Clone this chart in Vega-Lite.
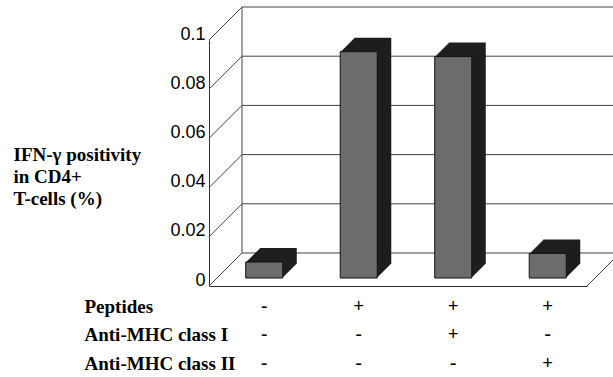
{
"$schema": "https://vega.github.io/schema/vega-lite/v6.json",
"width": 378, "height": 246,
"autosize": {"type": "none"},
"padding": {"left": 209, "top": 40, "right": 26, "bottom": 91},
"background": "white",
"config": {"view": {"stroke": null}},
"datasets": {
  "bars": [
    {"cond": "- - -", "value": 0.0065},
    {"cond": "+ - -", "value": 0.092},
    {"cond": "+ + -", "value": 0.09},
    {"cond": "+ - +", "value": 0.01}
  ],
  "ticks": [{"v": 0}, {"v": 0.02}, {"v": 0.04}, {"v": 0.06}, {"v": 0.08}, {"v": 0.1}],
  "one": [{}]
},
"layer": [
  {
    "layer": [
      {"data": {"name": "ticks"},
       "mark": {"type": "rule", "color": "#444", "strokeWidth": 1, "xOffset": 33, "x2Offset": 33, "yOffset": -33},
       "encoding": {
         "x": {"datum": 0, "type": "quantitative", "scale": {"domain": [0, 1]}, "axis": null},
         "x2": {"datum": 1},
         "y": {"field": "v", "type": "quantitative"}
       }},
      {"data": {"name": "ticks"},
       "mark": {"type": "rule", "color": "#444", "strokeWidth": 1, "x2Offset": 33, "y2Offset": -33},
       "encoding": {
         "x": {"datum": 0, "type": "quantitative", "scale": {"domain": [0, 1]}, "axis": null},
         "x2": {"datum": 0},
         "y": {"field": "v", "type": "quantitative"},
         "y2": {"field": "v"}
       }},
      {"data": {"name": "one"},
       "mark": {"type": "rule", "color": "#444", "strokeWidth": 1, "xOffset": 33, "yOffset": -33, "y2Offset": -33},
       "encoding": {
         "x": {"datum": 0, "type": "quantitative", "scale": {"domain": [0, 1]}, "axis": null},
         "y": {"datum": 0, "type": "quantitative"},
         "y2": {"datum": 0.1}
       }},
      {"data": {"name": "one"},
       "mark": {"type": "rule", "color": "#444", "strokeWidth": 1, "x2Offset": 33, "y2Offset": -33},
       "encoding": {
         "x": {"datum": 1, "type": "quantitative", "scale": {"domain": [0, 1]}, "axis": null},
         "x2": {"datum": 1},
         "y": {"datum": 0, "type": "quantitative"},
         "y2": {"datum": 0}
       }}
    ]
  },
  {
    "data": {"name": "bars"},
    "encoding": {
      "x": {"field": "cond", "type": "nominal", "sort": null,
        "scale": {"paddingInner": 0.608, "paddingOuter": 0.304},
        "axis": {"labelExpr": "split(datum.label, ' ')", "labelAngle": 0, "labelFont": "Liberation Serif", "labelFontWeight": "bold", "labelFontSize": 19, "labelLineHeight": 28.5, "labelPadding": 10, "labelOffset": 8, "labelColor": "#000", "labelOverlap": false, "labelBound": false, "labelBaseline": "top",
          "ticks": false, "domain": true, "domainColor": "#333", "grid": false,
          "title": ["Peptides", "Anti-MHC class I", "Anti-MHC class II"],
          "titleFont": "Liberation Serif", "titleFontSize": 19, "titleFontWeight": "bold", "titleColor": "#000", "titleAlign": "left", "titleBaseline": "top", "titleX": -125, "titleY": 11, "titleLineHeight": 28.5}},
      "y": {"field": "value", "type": "quantitative",
        "scale": {"domain": [0, 0.1], "nice": false},
        "axis": {"values": [0, 0.02, 0.04, 0.06, 0.08, 0.1], "format": "~g", "grid": false, "ticks": false, "domain": true, "domainColor": "#333",
          "labelFont": "Liberation Sans", "labelFontSize": 18, "labelPadding": 4, "labelOffset": -6, "labelColor": "#000",
          "title": ["IFN-γ positivity", "in CD4+", "T-cells (%)"],
          "titleFont": "Liberation Serif", "titleFontSize": 19, "titleFontWeight": "bold", "titleColor": "#000", "titleAngle": 0, "titleAlign": "left", "titleBaseline": "top", "titleX": -196, "titleY": 105, "titleLineHeight": 22}}
    },
    "layer": [
      {"mark": {"type": "bar", "color": "#1e1e1e", "xOffset": 22, "x2Offset": 22, "yOffset": -22, "y2Offset": -22}},
      {"mark": {"type": "bar", "color": "#1e1e1e", "xOffset": 21, "x2Offset": 21, "yOffset": -21, "y2Offset": -21}},
      {"mark": {"type": "bar", "color": "#1e1e1e", "xOffset": 20, "x2Offset": 20, "yOffset": -20, "y2Offset": -20}},
      {"mark": {"type": "bar", "color": "#1e1e1e", "xOffset": 19, "x2Offset": 19, "yOffset": -19, "y2Offset": -19}},
      {"mark": {"type": "bar", "color": "#1e1e1e", "xOffset": 18, "x2Offset": 18, "yOffset": -18, "y2Offset": -18}},
      {"mark": {"type": "bar", "color": "#1e1e1e", "xOffset": 17, "x2Offset": 17, "yOffset": -17, "y2Offset": -17}},
      {"mark": {"type": "bar", "color": "#1e1e1e", "xOffset": 16, "x2Offset": 16, "yOffset": -16, "y2Offset": -16}},
      {"mark": {"type": "bar", "color": "#1e1e1e", "xOffset": 15, "x2Offset": 15, "yOffset": -15, "y2Offset": -15}},
      {"mark": {"type": "bar", "color": "#1e1e1e", "xOffset": 14, "x2Offset": 14, "yOffset": -14, "y2Offset": -14}},
      {"mark": {"type": "bar", "color": "#1e1e1e", "xOffset": 13, "x2Offset": 13, "yOffset": -13, "y2Offset": -13}},
      {"mark": {"type": "bar", "color": "#1e1e1e", "xOffset": 12, "x2Offset": 12, "yOffset": -12, "y2Offset": -12}},
      {"mark": {"type": "bar", "color": "#1e1e1e", "xOffset": 11, "x2Offset": 11, "yOffset": -11, "y2Offset": -11}},
      {"mark": {"type": "bar", "color": "#1e1e1e", "xOffset": 10, "x2Offset": 10, "yOffset": -10, "y2Offset": -10}},
      {"mark": {"type": "bar", "color": "#1e1e1e", "xOffset": 9, "x2Offset": 9, "yOffset": -9, "y2Offset": -9}},
      {"mark": {"type": "bar", "color": "#6c6c6c", "stroke": "#111", "strokeWidth": 1, "xOffset": 8, "x2Offset": 8, "yOffset": -8, "y2Offset": -8}}
    ]
  }
],
"resolve": {"scale": {"x": "independent"}}
}
